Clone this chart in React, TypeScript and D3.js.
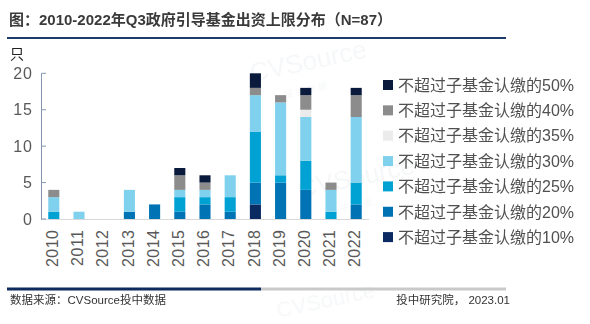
import React from "react";
import * as d3 from "d3";

const years = ["2010","2011","2012","2013","2014","2015","2016","2017","2018","2019","2020","2021","2022"];
const seriesKeys = ["p10","p20","p25","p30","p35","p40","p50"];
const seriesLabels: Record<string,string> = {
  p50: "不超过子基金认缴的50%",
  p40: "不超过子基金认缴的40%",
  p35: "不超过子基金认缴的35%",
  p30: "不超过子基金认缴的30%",
  p25: "不超过子基金认缴的25%",
  p20: "不超过子基金认缴的20%",
  p10: "不超过子基金认缴的10%",
};
const legendOrder = ["p50","p40","p35","p30","p25","p20","p10"];
const colors: Record<string,string> = {
  p50: "#0a1a3c",
  p40: "#8c8c8c",
  p35: "#ebebeb",
  p30: "#7fd1ed",
  p25: "#00a2d3",
  p20: "#0073b5",
  p10: "#0b2a62",
};
const p10 = [0,0,0,0,0,0,0,0,2,0,0,0,0];
const p20 = [0,0,0,1,2,1,2,1,3,5,4,0,2];
const p25 = [1,0,0,0,0,2,1,2,7,1,4,1,3];
const p30 = [2,1,0,3,0,1,1,3,5,10,6,3,9];
const p35 = [0,0,0,0,0,0,0,0,0,0,1,0,0];
const p40 = [1,0,0,0,0,2,1,0,1,1,2,1,3];
const p50 = [0,0,0,0,0,1,1,0,2,0,1,0,1];
const yTicks = [0,5,10,15,20];

const seriesValues: Record<string, number[]> = { p10, p20, p25, p30, p35, p40, p50 };

const FONT = "'Liberation Sans', Arial, 'Noto Sans CJK SC', sans-serif";

export default function App() {
  const rows = years.map((y, i) => {
    const r: any = { year: y };
    seriesKeys.forEach((k) => (r[k] = seriesValues[k][i]));
    return r;
  });
  const stacked = d3.stack().keys(seriesKeys)(rows);
  const x = d3.scaleBand().domain(years).range([41.2, 368.8]).paddingInner(0.56).paddingOuter(0.28);
  const y = d3.scaleLinear().domain([0, 20]).range([219, 73.3]);

  return (
    <svg width={590} height={324} style={{ position: "absolute", left: 0, top: 0, background: "#fff" }} fontFamily={FONT}>
      <rect x={0} y={0} width={590} height={324} fill="#fff" />
      {/* watermarks */}
      <g fill="#9fb0bf" opacity={0.1} fontFamily={FONT}>
        <text x={252} y={82} fontSize={26} transform="rotate(-12 252 82)">CVSource</text>
        <text x={285} y={98} fontSize={9} transform="rotate(-12 285 98)">投 中 数 据</text>
        <text x={300} y={198} fontSize={26} transform="rotate(-12 300 198)">CVSource</text>
        <text x={330} y={214} fontSize={9} transform="rotate(-12 330 214)">投 中 数 据</text>
        <text x={278} y={318} fontSize={22} transform="rotate(-12 278 318)">CVSource</text>
      </g>
      {/* title */}
      <text x={9} y={25} fontSize={15} fontWeight="bold" fill="#3a3a3a" fontFamily="'Liberation Sans', 'Noto Sans CJK SC', sans-serif">图：2010-2022年Q3政府引导基金出资上限分布（N=87）</text>
      <line x1={7} x2={506} y1={38} y2={38} stroke="#1f3a6b" strokeWidth={2} />
      <text x={10} y={59} fontSize={14} fill="#222" fontFamily="'Noto Sans CJK SC', sans-serif">只</text>

      {/* bars */}
      {stacked.map((s) => (
        <g key={s.key} fill={colors[s.key]}>
          {s.map((d, i) =>
            d[1] - d[0] > 0 ? (
              <rect key={i} x={x(years[i])} width={x.bandwidth()} y={y(d[1])} height={y(d[0]) - y(d[1])} />
            ) : null
          )}
        </g>
      ))}

      {/* axes */}
      <line x1={41} x2={369} y1={219.5} y2={219.5} stroke="#d9d9d9" strokeWidth={1} />
      <line x1={41.5} x2={41.5} y1={73.3} y2={219.5} stroke="#8496b0" strokeWidth={1} />
      {yTicks.map((t) => (
        <g key={t}>
          <line x1={41.5} x2={46} y1={y(t)} y2={y(t)} stroke="#8496b0" strokeWidth={1} />
          <text x={33} y={y(t)} dy="0.36em" textAnchor="end" fontSize={16} letterSpacing={1} fill="#595959">{t}</text>
        </g>
      ))}
      {years.map((yr) => {
        const cx = (x(yr) as number) + x.bandwidth() / 2 - 1.5;
        return (
          <text key={yr} transform={`translate(${cx},229.5) rotate(-90)`} dy="0.36em" textAnchor="end" fontSize={16} letterSpacing={0.5} fill="#595959">{yr}</text>
        );
      })}

      {/* legend */}
      {legendOrder.map((k, i) => {
        const cy = 85 + i * 25.35;
        return (
          <g key={k}>
            <rect x={383} y={cy - 5} width={10} height={10} fill={colors[k]} />
            <text x={398} y={cy} dy="0.36em" fontSize={16} fill="#505050">{seriesLabels[k]}</text>
          </g>
        );
      })}

      {/* footer */}
      <line x1={7} x2={261} y1={289} y2={289} stroke="#0d2b5e" strokeWidth={3} />
      <line x1={261} x2={506} y1={289} y2={289} stroke="#c9c9c9" strokeWidth={3} />
      <text x={10} y={304} fontSize={11.5} fill="#333">数据来源：CVSource投中数据</text>
      <text x={510} y={304} fontSize={11.5} fill="#333" textAnchor="end">投中研究院，  2023.01</text>
    </svg>
  );
}
